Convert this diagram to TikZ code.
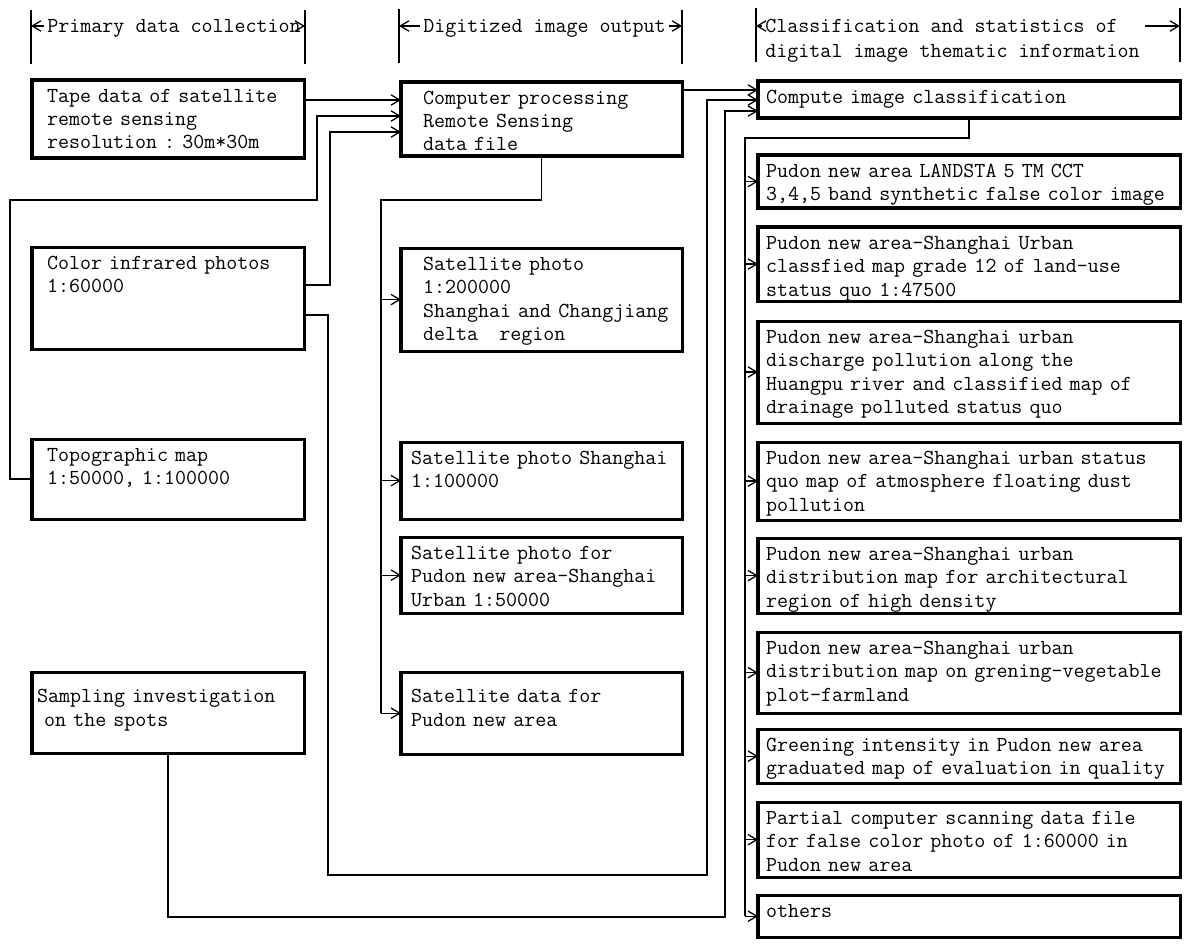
\documentclass[tikz,border=0pt]{standalone}
\usepackage{fontspec}
\usetikzlibrary{arrows.meta, positioning}

\newcommand{\boxfont}{\fontsize{15.2pt}{16.7pt}\selectfont\ttfamily\addfontfeatures{FakeStretch=0.87,FakeBold=1}}
\newcommand{\cell}[2]{\leftskip=#1\relax\rightskip=-1cm plus 1fil\relax #2\par}

\begin{document}
\frenchspacing
\begin{tikzpicture}[->,>={Straight Barb[length=2.2mm,width=2.6mm]},x=0.025cm,y=-0.025cm,
 line width=0.9pt, font=\boxfont,
 head/.style={inner sep=2pt, text height=0.3cm, text depth=0pt, anchor=west},
 box/.style={draw, line width=2.2pt, outer sep=0pt, anchor=north west, align=left,
  inner ysep=0.15cm, text height=0.4cm},
 src box/.style={box, inner xsep=0.125cm, text width=6.55cm},
 mid box/.style={box, inner xsep=0.25cm, text width=6.525cm},
 out box/.style={box, inner xsep=0.2cm, text width=10.15cm}]
  \useasboundingbox (0,0) rectangle (1189,943);

  % column headings
  \node[head] (hd1) at (44,26) {Primary data collection};
  \node[head] (hd2) at (420,26) {Digitized image output};
  \node[head] (hd3) at (762,26) {Classification and statistics of};
  \node[head, below=0.625cm of hd3.west, anchor=west] (hd3b) {digital image thematic information};
  \coordinate (bar1l) at (31,10); \coordinate (bar1r) at (305,10);
  \coordinate (bar2l) at (399,9); \coordinate (bar2r) at (682,10);
  \coordinate (bar3l) at (756,8); \coordinate (bar3r) at (1180,8);
  \foreach \b in {bar1l,bar1r,bar2l,bar2r,bar3l,bar3r}
   \draw[-] (\b) -- ++(0,-1.35cm);
  \draw (hd1.west) -- (hd1.west -| bar1l);
  \draw (hd1.east) -- (hd1.east -| bar1r);
  \draw (hd2.west) -- (hd2.west -| bar2l);
  \draw (hd2.east) -- (hd2.east -| bar2r);
  \draw (hd3.west) -- (hd3.west -| bar3l);
  \draw ([xshift=0.6cm]hd3.east) -- (hd3.east -| bar3r);

  % primary data
  \node[src box, text depth=1.25cm] (tape) at (32,80)
   {\cell{0.25cm}{Tape data of satellite\\remote sensing\\resolution : 30m*30m}};
  \node[src box, text depth=1.85cm, below=2.225cm of tape] (ir)
   {\cell{0.25cm}{Color infrared photos\\1:60000}};
  \node[src box, text depth=1.3cm, below=2.25cm of ir] (topo)
   {\cell{0.25cm}{Topographic map\\1:50000, 1:100000}};
  \node[src box, text height=0.62cm, text depth=1.105cm, below=3.825cm of topo] (samp)
   {\cell{0pt}{Sampling investigation\\~on the spots}};

  % digitized output
  \node[mid box, text depth=1.15cm] (proc) at (401,82)
   {\cell{0.3cm}{Computer processing\\Remote Sensing\\data file}};
  \node[mid box, text depth=1.875cm, below=2.3cm of proc] (sat200)
   {\cell{0.3cm}{Satellite photo\\1:200000\\Shanghai and Changjiang\\delta\ \ \ region}};
  \node[mid box, text depth=1.225cm, below=2.275cm of sat200] (satsh)
   {\cell{0pt}{Satellite photo Shanghai\\1:100000}};
  \node[mid box, text depth=1.2cm, below=0.45cm of satsh] (satpu)
   {\cell{0pt}{Satellite photo for\\Pudon new area-Shanghai\\Urban 1:50000}};
  \node[mid box, text height=0.62cm, text depth=1.13cm, below=1.475cm of satpu] (satdata)
   {\cell{0pt}{Satellite data for\\Pudon new area}};

  % thematic information
  \node[out box, text depth=0.225cm] (classify) at (758,81)
   {\cell{0pt}{Compute image classification}};
  \node[out box, text depth=0.625cm, below=0.925cm of classify] (landsat)
   {\cell{0pt}{Pudon new area LANDSTA 5 TM CCT\\3,4,5 band synthetic false color image}};
  \node[out box, text depth=1.15cm, below=0.475cm of landsat] (landuse)
   {\cell{0pt}{Pudon new area-Shanghai Urban\\classfied map grade 12 of land-use\\status quo 1:47500}};
  \node[out box, text depth=1.85cm, below=0.5cm of landuse] (discharge)
   {\cell{0pt}{Pudon new area-Shanghai urban\\discharge pollution along the\\Huangpu river and classified map of\\drainage polluted status quo}};
  \node[out box, text depth=1.25cm, below=0.475cm of discharge] (dust)
   {\cell{0pt}{Pudon new area-Shanghai urban status\\quo map of atmosphere floating dust\\pollution}};
  \node[out box, text depth=1.175cm, below=0.45cm of dust] (density)
   {\cell{0pt}{Pudon new area-Shanghai urban\\distribution map for architectural\\region of high density}};
  \node[out box, text depth=1.325cm, below=0.475cm of density] (farmland)
   {\cell{0pt}{Pudon new area-Shanghai urban\\distribution map on grening-vegetable\\plot-farmland}};
  \node[out box, text depth=0.65cm, below=0.4cm of farmland] (greening)
   {\cell{0pt}{Greening intensity in Pudon new area\\graduated map of evaluation in quality}};
  \node[out box, text depth=1.175cm, below=0.475cm of greening] (scanning)
   {\cell{0pt}{Partial computer scanning data file\\for false color photo of 1:60000 in\\Pudon new area}};
  \node[out box, text depth=0.35cm, below=0.45cm of scanning] (others) {\cell{0pt}{others}};

  % inputs to the processing box
  \coordinate (topoup) at (317,200);
  \draw ([yshift=-0.5cm]tape.north east) coordinate (tp) -- (tp -| proc.west);
  \draw (topo.west) -- ++(-0.55cm,0) |- (topoup) |- ([yshift=-0.85cm]proc.north west);
  \draw ([yshift=-0.95cm]ir.north east) -- ++(0.65cm,0) |- ([yshift=-1.25cm]proc.north west);

  % inputs to the classification box
  \coordinate (irbus) at (707,875);
  \coordinate (sampbus) at (725,917);
  \draw ([yshift=-0.2cm]proc.north east) coordinate (pc) -- (pc -| classify.west);
  \draw ([yshift=-1.7cm]ir.north east) -- ++(0.6cm,0) |- (irbus) |- ([yshift=-0.475cm]classify.north west);
  \draw (samp.south) |- (sampbus) |- ([yshift=-0.75cm]classify.north west);

  % outputs
  \coordinate (satbus) at (381,200);
  \draw[-] (proc.south) |- (satbus) -- (satbus |- satdata.west);
  \foreach \t in {sat200,satsh,satpu,satdata}
   \draw (satbus |- \t.west) -- (\t.west);
  \coordinate (outbus) at (745,138);
  \draw[-] (classify.south) |- (outbus) -- (outbus |- others.west);
  \foreach \t in {landsat,landuse,discharge,dust,density,farmland,greening,scanning,others}
   \draw (outbus |- \t.west) -- (\t.west);
\end{tikzpicture}
\end{document}
